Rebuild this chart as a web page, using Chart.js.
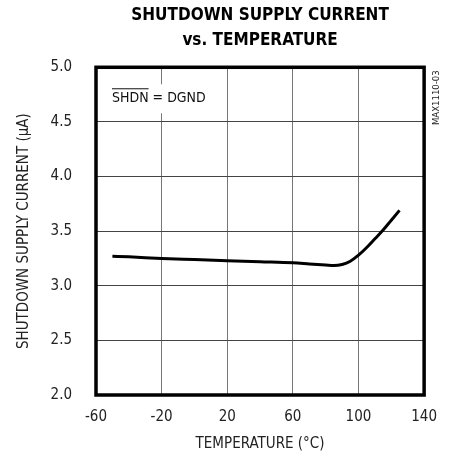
<!DOCTYPE html>
<html>
<head>
<meta charset="utf-8">
<script src="https://cdn.jsdelivr.net/npm/chart.js@4.4.0/dist/chart.umd.min.js"></script>
<style>
  html, body { margin: 0; padding: 0; background: #fff; }
  #wrap { width: 450px; height: 460px; }
</style>
</head>
<body>
<div id="wrap"><canvas id="chart" width="450" height="460"></canvas></div>
<script>
// values
const temperatures = [-50, -40, -20, 0, 20, 40, 60, 70, 80, 85, 90, 95, 100, 105, 110, 115, 120, 125];
const supplyCurrent = [3.27, 3.265, 3.25, 3.24, 3.23, 3.22, 3.21, 3.20, 3.19, 3.185, 3.195, 3.225, 3.28, 3.35, 3.43, 3.51, 3.60, 3.69];
const xTicks = [-60, -20, 20, 60, 100, 140];
const yTicks = [2.0, 2.5, 3.0, 3.5, 4.0, 4.5, 5.0];

const FONT = '"DejaVu Sans Condensed", "Liberation Sans Narrow", sans-serif';

// frame, condition label and part number
const extras = {
    id: 'extras',
    beforeDatasetsDraw(chart) {
        const ctx = chart.ctx;
        const a = chart.chartArea;
        ctx.save();
        ctx.font = '14px ' + FONT;
        ctx.textBaseline = 'middle';
        const x0 = a.left + 16, y0 = a.top + 31;
        const txt = 'SHDN = DGND';
        const w = ctx.measureText(txt).width;
        ctx.fillStyle = '#fff';
        ctx.fillRect(x0 - 3, y0 - 14, w + 6, 29);
        ctx.fillStyle = '#111';
        ctx.fillText(txt, x0, y0);
        const wBar = ctx.measureText('SHDN').width;
        ctx.strokeStyle = '#111';
        ctx.lineWidth = 1;
        ctx.beginPath();
        ctx.moveTo(x0, y0 - 9.5);
        ctx.lineTo(x0 + wBar, y0 - 9.5);
        ctx.stroke();
        ctx.restore();
    },
    afterDraw(chart) {
        const ctx = chart.ctx;
        const a = chart.chartArea;
        ctx.save();
        ctx.strokeStyle = '#000';
        ctx.lineWidth = 3.5;
        ctx.strokeRect(a.left, a.top, a.right - a.left, a.bottom - a.top);
        ctx.translate(a.right + 12, a.top + 3);
        ctx.rotate(-Math.PI / 2);
        ctx.font = '9.5px ' + FONT;
        ctx.fillStyle = '#222';
        ctx.textAlign = 'right';
        ctx.textBaseline = 'middle';
        ctx.fillText('MAX1110-03', 0, 0);
        ctx.restore();
    }
};

new Chart(document.getElementById('chart'), {
    type: 'line',
    data: {
        datasets: [{
            data: temperatures.map((t, i) => ({ x: t, y: supplyCurrent[i] })),
            borderColor: '#000',
            borderWidth: 3,
            pointRadius: 0,
            fill: false,
            cubicInterpolationMode: 'monotone'
        }]
    },
    options: {
        responsive: false,
        animation: false,
        layout: { padding: { top: 0, right: 19, bottom: 0, left: 0 } },
        plugins: {
            legend: { display: false },
            tooltip: { enabled: false },
            title: {
                display: true,
                fullSize: false,
                text: ['SHUTDOWN SUPPLY CURRENT', 'vs. TEMPERATURE'],
                color: '#000',
                font: { family: FONT, size: 17, weight: 'bold', lineHeight: 1.42 },
                padding: { top: 4, bottom: 15 }
            }
        },
        scales: {
            x: {
                type: 'linear',
                min: -60,
                max: 140,
                afterFit(s) { s.height = 65; },
                afterBuildTicks(s) { s.ticks = xTicks.map(v => ({ value: v })); },
                grid: { color: '#777', lineWidth: 1, drawTicks: false },
                border: { display: false },
                ticks: { color: '#222', padding: 13, font: { family: FONT, size: 15 } },
                title: {
                    display: true,
                    text: 'TEMPERATURE (°C)',
                    color: '#222',
                    font: { family: FONT, size: 15 },
                    padding: { top: 0, bottom: 7 }
                }
            },
            y: {
                min: 2,
                max: 5,
                afterFit(s) { s.width = 96; },
                afterBuildTicks(s) { s.ticks = yTicks.map(v => ({ value: v })); },
                grid: { color: '#444', lineWidth: 1, drawTicks: false },
                border: { display: false },
                ticks: {
                    color: '#222',
                    padding: 24,
                    font: { family: FONT, size: 15 },
                    callback: v => v.toFixed(1)
                },
                title: {
                    display: true,
                    text: 'SHUTDOWN SUPPLY CURRENT (μA)',
                    color: '#222',
                    font: { family: FONT, size: 15 },
                    padding: { top: 15, bottom: 0 }
                }
            }
        }
    },
    plugins: [extras]
});
</script>
</body>
</html>
